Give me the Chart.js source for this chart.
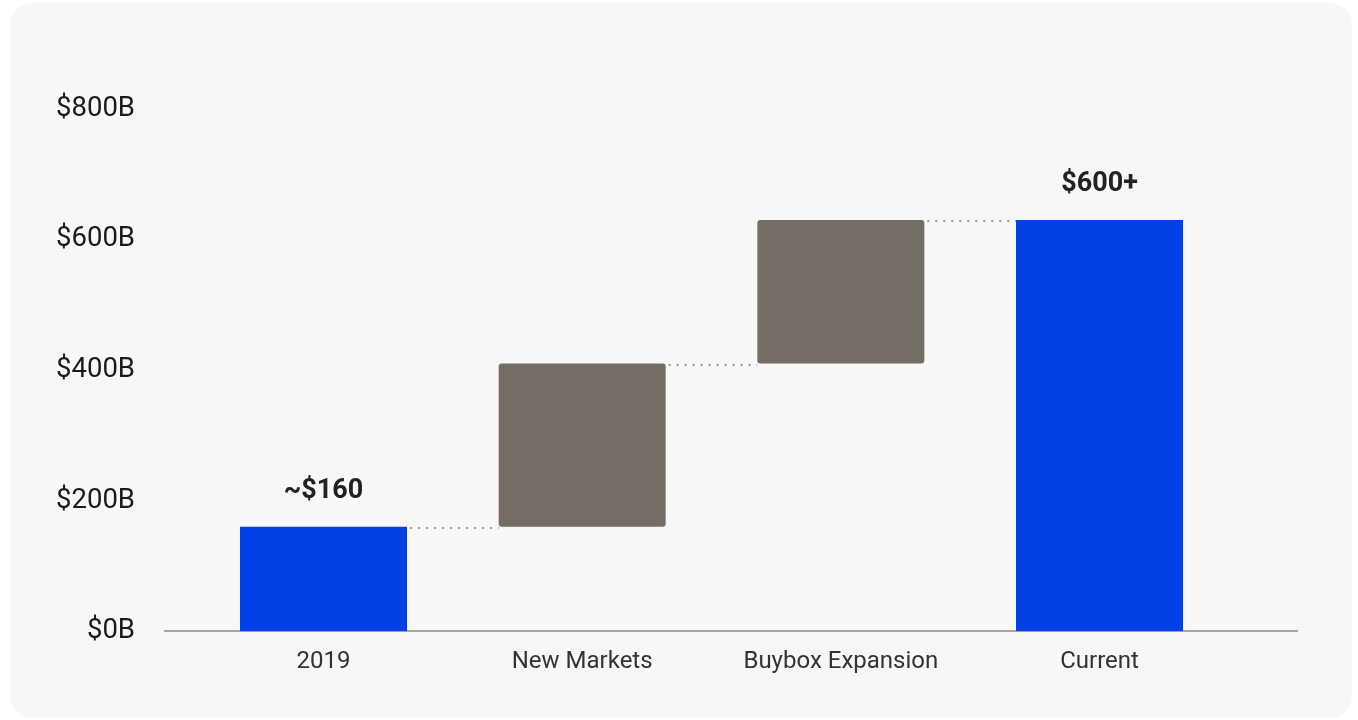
<!DOCTYPE html>
<html>
<head>
<meta charset="utf-8">
<title>Market size waterfall</title>
<script src="https://cdn.jsdelivr.net/npm/chart.js@4.4.1/dist/chart.umd.min.js"></script>
<style>
    html, body {
        margin: 0;
        padding: 0;
        background: #ffffff;
    }
    .card {
        position: absolute;
        left: 10px;
        top: 3px;
        width: 1342px;
        height: 715px;
        border-radius: 22px;
        background: #f8f7f5;
        overflow: hidden;
    }
    canvas {
        display: block;
    }
</style>
</head>
<body>
<div class="card">
    <canvas id="waterfallChart" width="1342" height="715"></canvas>
</div>
<script>
// Waterfall steps: each bar floats from its start to its end value ($B)
const categories = ['2019', 'New Markets', 'Buybox Expansion', 'Current'];
const barStarts = [0, 160, 410, 0];
const barEnds = [160, 410, 630, 630];
const barLabels = ['~$160', '', '', '$600+'];
const yTicks = [0, 200, 400, 600, 800];

const TOTAL_COLOR = '#0340e6';
const STEP_COLOR = '#736d66';

function isTotal(i) {
    return barStarts[i] === 0;
}

// Dotted connectors from the top of each bar to the next bar
const connectorPlugin = {
    id: 'connectors',
    afterDatasetsDraw(chart) {
        const meta = chart.getDatasetMeta(0);
        const yScale = chart.scales.y;
        const ctx = chart.ctx;
        ctx.save();
        ctx.strokeStyle = '#9a9793';
        ctx.lineWidth = 2;
        ctx.setLineDash([2, 6]);
        for (let i = 0; i < meta.data.length - 1; i++) {
            const bar = meta.data[i];
            const next = meta.data[i + 1];
            const y = Math.round(yScale.getPixelForValue(barEnds[i])) + 1;
            ctx.beginPath();
            ctx.moveTo(bar.x + bar.width / 2 + 3, y);
            ctx.lineTo(next.x - next.width / 2, y);
            ctx.stroke();
        }
        ctx.restore();
    }
};

// Bold value labels above the total bars
const valueLabelPlugin = {
    id: 'valueLabels',
    afterDatasetsDraw(chart) {
        const meta = chart.getDatasetMeta(0);
        const yScale = chart.scales.y;
        const ctx = chart.ctx;
        ctx.save();
        ctx.font = 'bold 27px Roboto';
        ctx.fillStyle = '#222222';
        ctx.textAlign = 'center';
        ctx.textBaseline = 'middle';
        meta.data.forEach((bar, i) => {
            if (!barLabels[i]) return;
            const top = yScale.getPixelForValue(barEnds[i]);
            ctx.fillText(barLabels[i], bar.x, top - 36);
        });
        ctx.restore();
    }
};

function initializeChart() {
    const canvasElem = document.getElementById('waterfallChart');
    if (typeof Chart === 'undefined' || !canvasElem) {
        console.error('Chart.js or canvas missing');
        return;
    }

    const points = categories.map((c, i) => ({ x: i, y: [barStarts[i], barEnds[i]] }));
    const colors = categories.map((c, i) => isTotal(i) ? TOTAL_COLOR : STEP_COLOR);

    new Chart(canvasElem, {
        type: 'bar',
        data: {
            datasets: [{
                data: points,
                backgroundColor: colors,
                borderWidth: 0,
                borderSkipped: false,
                borderRadius: (ctx) => isTotal(ctx.dataIndex) ? 0 : 3,
                barPercentage: 0.6456,
                categoryPercentage: 1
            }]
        },
        options: {
            responsive: false,
            animation: false,
            layout: {
                padding: { top: 106, right: 55, bottom: 26, left: 0 }
            },
            plugins: {
                legend: { display: false },
                tooltip: { enabled: false }
            },
            scales: {
                x: {
                    type: 'linear',
                    min: -0.6128,
                    max: 3.7635,
                    offset: false,
                    z: 1,
                    grid: { display: false, drawTicks: false, offset: false },
                    border: { display: true, color: 'rgba(160,155,150,0.9)', width: 2 },
                    afterBuildTicks: (scale) => {
                        scale.ticks = categories.map((c, i) => ({ value: i }));
                    },
                    ticks: {
                        autoSkip: false,
                        maxRotation: 0,
                        padding: 16,
                        color: '#333333',
                        font: { family: 'Roboto', size: 24 },
                        callback: (value) => categories[value]
                    }
                },
                y: {
                    min: 0,
                    max: 800,
                    grid: { display: false, drawTicks: false },
                    border: { display: false },
                    afterBuildTicks: (scale) => {
                        scale.ticks = yTicks.map(v => ({ value: v }));
                    },
                    afterFit: (scale) => {
                        scale.width = 155;
                    },
                    ticks: {
                        padding: 30,
                        color: '#1a1a1a',
                        font: { family: 'Roboto', size: 27.5 },
                        callback: (value) => '$' + value + 'B'
                    }
                }
            }
        },
        plugins: [connectorPlugin, valueLabelPlugin]
    });
}

initializeChart();
</script>
</body>
</html>
